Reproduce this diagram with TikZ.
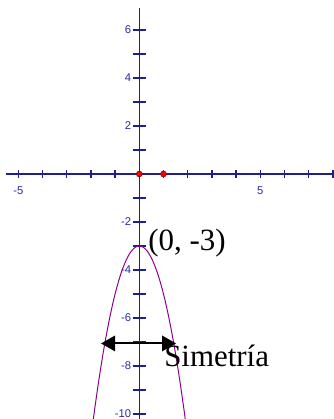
\documentclass[tikz,border=0pt]{standalone}
\usepackage{fontspec}
\setmainfont{Liberation Serif}
\setsansfont{Liberation Sans}
\usetikzlibrary{arrows.meta}
\definecolor{ejeazul}{RGB}{30,30,140}
\definecolor{numazul}{RGB}{40,40,170}
\definecolor{curva}{RGB}{140,0,140}
\tikzset{eje/.style={ejeazul,line width=1pt},
  numero/.style={numazul,inner sep=0pt,font=\sffamily\fontsize{8}{9}\selectfont},
  rotulo/.style={anchor=base west,inner sep=0pt,font=\fontsize{22}{26}\selectfont}}

\begin{document}
\begin{tikzpicture}[x=0.605cm,y=0.6cm]
\useasboundingbox (-5.756,-10.208) rectangle (8.045,7.25);
\clip (-5.756,-10.208) rectangle (8.045,7.25);
\draw[eje] (-5.5,0)--(8.1,0);
\draw[eje] (0,6.9)--(0,-10.3);
\foreach \x in {-5,...,-1,1,2,...,8}{\draw[eje] (\x,-0.16)--(\x,0.16);}
\foreach \y in {-10,...,-1,1,2,...,6}{\draw[eje] (-0.27,\y)--(0.27,\y);}
\foreach \y in {-10,-8,-6,-4,-2,2,4,6}{\node[numero,anchor=east] (n\y) at (-0.33,\y){\y};}
\node[numero,anchor=north] (xm5) at (-5,-0.5){-5};
\node[numero,anchor=north] (xp5) at (5,-0.5){5};
\draw[curva,line width=0.7pt,domain=-1.92:1.92,samples=80] plot (\x,{-2*\x*\x-3});
\fill[red,draw=red!50!black,line width=0.4pt] (0,0) circle (2.1pt);
\fill[red,draw=red!50!black,line width=0.4pt] (1,0) circle (2.1pt);
\coordinate (izq) at (-1.58,-7.06);
\coordinate (der) at (1.52,-7.06);
\draw[line width=1.4pt,{Triangle[length=10pt,width=11pt]}-{Triangle[length=10pt,width=11pt]}] (izq)--(der);
\node[rotulo] (vertice) at (0.36,-3.17){(0, -3)};
\node[rotulo] (simetria) at (1.02,-8.03){Simetría};
\end{tikzpicture}
\end{document}
